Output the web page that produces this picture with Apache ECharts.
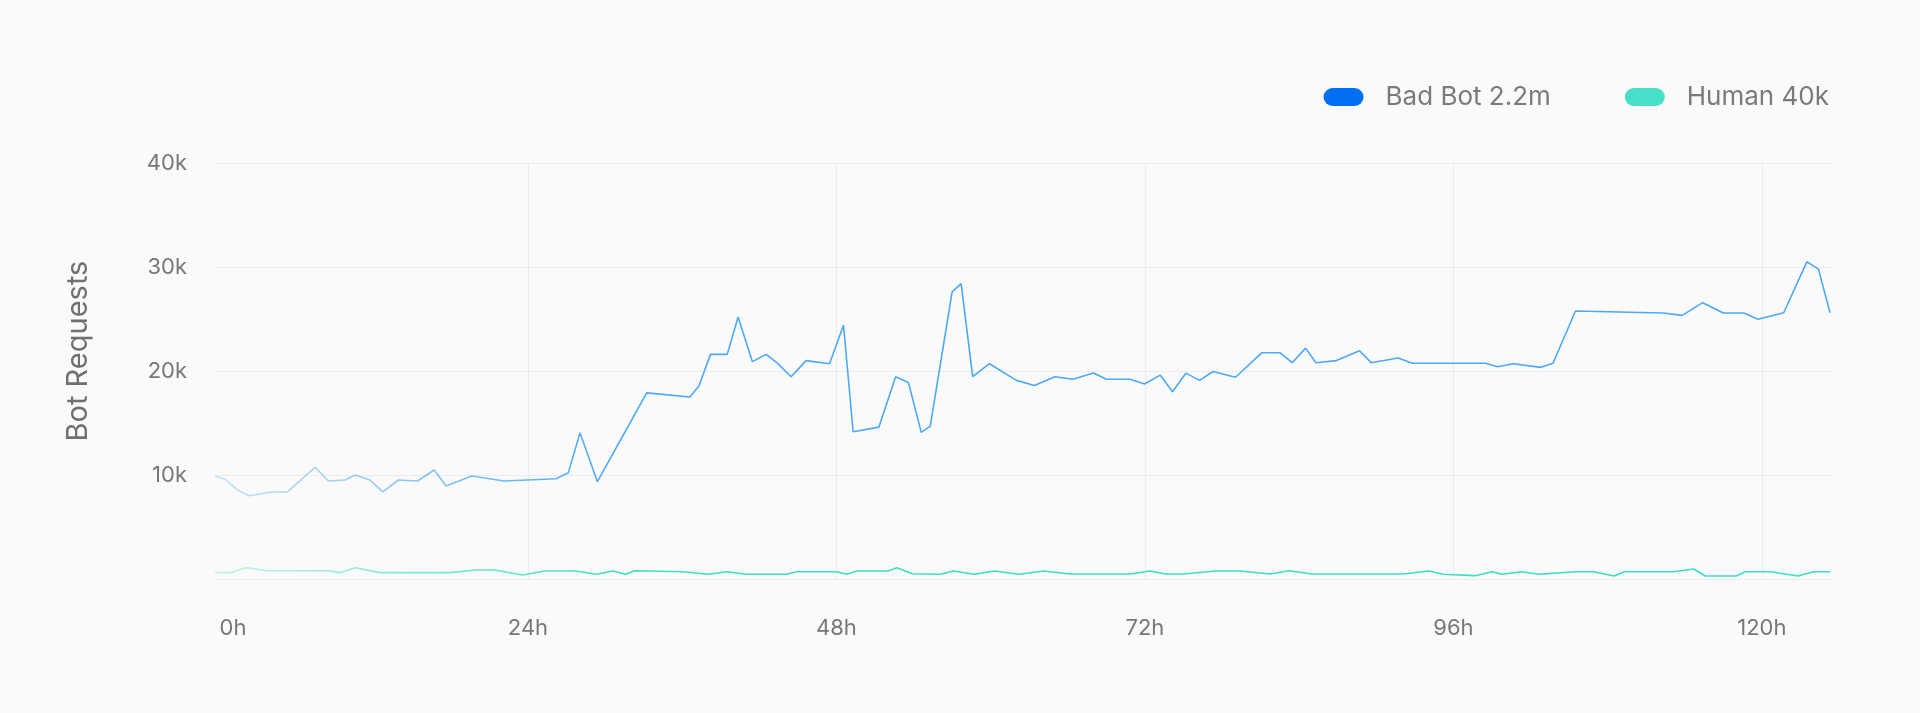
<!DOCTYPE html>
<html>
<head>
<meta charset="utf-8">
<style>
  html, body { margin: 0; padding: 0; background: #fafafa; }
  #chart { width: 1920px; height: 713px; }
</style>
<script src="https://cdn.jsdelivr.net/npm/echarts@6/dist/echarts.min.js"></script>
</head>
<body>
<div id="chart"></div>
<script>
const seriesNames = ['Bad Bot 2.2m', 'Human 40k'];
const xTickHours = [24, 48, 72, 96, 120];
const xLabelHours = [0, 24, 48, 72, 96, 120];
const yTicks = [0, 10000, 20000, 30000, 40000];

const botHours = [-0.35, 0.43, 1.39, 2.32, 4.06, 5.28, 7.43, 8.47, 9.77, 10.55, 11.71, 12.7, 13.92, 15.4, 16.7, 17.63, 19.63, 22.14, 26.19, 27.14, 28.05, 29.4, 33.24, 36.6, 37.3, 38.2, 39.5, 40.35, 41.46, 42.53, 43.36, 44.47, 45.64, 47.46, 48.55, 49.3, 51.3, 52.6, 53.6, 54.6, 55.3, 57.0, 57.7, 58.6, 59.9, 62.0, 63.4, 65.0, 66.4, 68.0, 69.0, 70.85, 71.97, 73.2, 74.15, 75.2, 76.25, 77.3, 79.05, 81.1, 82.5, 83.46, 84.5, 85.3, 86.9, 88.7, 89.6, 91.7, 92.8, 98.5, 99.45, 100.65, 102.8, 103.75, 105.5, 112.3, 113.8, 115.4, 117.0, 118.6, 119.7, 121.7, 123.5, 124.4, 125.3];
const botValues = [9900, 9600, 8560, 8000, 8370, 8370, 10740, 9420, 9520, 10000, 9520, 8370, 9520, 9420, 10480, 8940, 9900, 9420, 9640, 10220, 14070, 9360, 17900, 17500, 18560, 21600, 21600, 25200, 20900, 21600, 20800, 19450, 21000, 20700, 24400, 14160, 14600, 19450, 18900, 14100, 14700, 27600, 28400, 19450, 20700, 19100, 18600, 19450, 19200, 19800, 19200, 19200, 18750, 19600, 18000, 19800, 19100, 19950, 19400, 21760, 21760, 20800, 22200, 20800, 21000, 21950, 20800, 21250, 20740, 20740, 20400, 20700, 20350, 20740, 25770, 25580, 25350, 26570, 25580, 25580, 24970, 25600, 30500, 29800, 25600];

const humanHours = [-0.35, 0.82, 2.06, 3.67, 8.47, 9.38, 10.55, 12.5, 17.9, 20.0, 21.4, 23.6, 25.3, 27.7, 29.35, 30.6, 31.6, 32.3, 36.1, 38.0, 39.5, 41.0, 44.1, 44.9, 48.0, 48.8, 49.6, 52.0, 52.7, 53.9, 56.1, 57.1, 58.7, 60.3, 62.2, 64.1, 66.2, 70.85, 72.4, 73.6, 75.0, 77.5, 79.4, 81.75, 83.2, 85.0, 92.1, 94.1, 95.2, 97.7, 99.0, 99.8, 101.3, 102.7, 105.5, 106.9, 108.5, 109.3, 113.1, 114.7, 115.6, 118.0, 118.7, 120.7, 122.8, 124.0, 125.3];
const humanValues = [610, 610, 1090, 800, 800, 610, 1090, 610, 610, 870, 870, 380, 770, 770, 450, 770, 450, 800, 700, 450, 700, 450, 450, 700, 700, 450, 770, 770, 1090, 510, 450, 770, 450, 770, 450, 770, 480, 480, 770, 480, 480, 770, 770, 480, 800, 480, 480, 770, 450, 320, 700, 450, 700, 450, 700, 700, 290, 700, 700, 960, 290, 290, 700, 700, 290, 700, 700];

const botData = botHours.map((h, i) => [h, botValues[i]]);
const humanData = humanHours.map((h, i) => [h, humanValues[i]]);

const FONT = 'Inter, "Noto Sans", sans-serif';
const pill = 'path://M9,0 H31 A9,9 0 0 1 31,18 H9 A9,9 0 0 1 9,0 Z';

function fade(r, g, b) {
  return {
    type: 'linear', x: 0, y: 0, x2: 1, y2: 0,
    colorStops: [
      { offset: 0, color: `rgba(${r},${g},${b},0.3)` },
      { offset: 0.25, color: `rgba(${r},${g},${b},1)` },
      { offset: 1, color: `rgba(${r},${g},${b},1)` }
    ]
  };
}

const chart = echarts.init(document.getElementById('chart'), null, { renderer: 'canvas' });
chart.setOption({
  backgroundColor: '#fafafa',
  animation: false,
  textStyle: { fontFamily: FONT },
  legend: {
    right: 91,
    top: 84,
    padding: 0,
    itemWidth: 40,
    itemHeight: 18,
    itemGap: 74,
    icon: pill,
    data: [
      { name: seriesNames[0], itemStyle: { color: '#0070f3' } },
      { name: seriesNames[1], itemStyle: { color: '#46dfc7' } }
    ],
    textStyle: { fontFamily: FONT, fontSize: 26, color: '#7a7a7a', padding: [0, 0, 0, 17] }
  },
  grid: { left: 215, right: 90, top: 163, bottom: 134, containLabel: false },
  xAxis: {
    type: 'value',
    min: -0.35,
    max: 125.3,
    axisLine: { show: false },
    axisTick: { show: false, customValues: xTickHours },
    splitLine: { show: true, lineStyle: { color: '#ececec', width: 1 } },
    axisLabel: {
      customValues: xLabelHours,
      alignMinLabel: 'left',
      margin: 38,
      fontFamily: FONT,
      fontSize: 22,
      color: '#777777',
      formatter: v => Math.round(v) + 'h'
    }
  },
  yAxis: {
    type: 'value',
    min: yTicks[0],
    max: yTicks[yTicks.length - 1],
    interval: 10000,
    name: 'Bot Requests',
    nameLocation: 'middle',
    nameGap: 122,
    nameTextStyle: { fontFamily: FONT, fontSize: 29, color: '#707070', padding: [0, 0, 0, 40] },
    axisLine: { show: false },
    axisTick: { show: false },
    splitLine: { show: true, lineStyle: { color: '#ececec', width: 1 } },
    axisLabel: {
      margin: 28,
      fontFamily: FONT,
      fontSize: 22,
      color: '#777777',
      formatter: v => v === 0 ? '' : (v / 1000) + 'k'
    }
  },
  series: [
    {
      name: seriesNames[0],
      type: 'line',
      data: botData,
      showSymbol: false,
      symbol: 'none',
      itemStyle: { color: '#0070f3' },
      lineStyle: { width: 1.6, color: fade(77, 168, 248) }
    },
    {
      name: seriesNames[1],
      type: 'line',
      data: humanData,
      showSymbol: false,
      symbol: 'none',
      itemStyle: { color: '#46dfc7' },
      lineStyle: { width: 1.6, color: fade(60, 222, 196) }
    }
  ]
});
</script>
</body>
</html>
